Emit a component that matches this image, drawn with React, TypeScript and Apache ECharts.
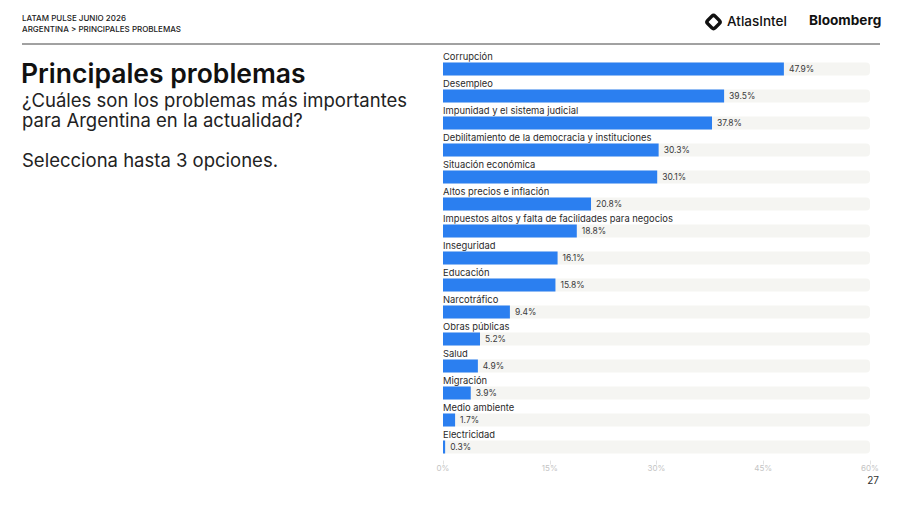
import React, { useEffect, useRef } from "react";
import * as echarts from "echarts";

const categories = [
  "Corrupción",
  "Desempleo",
  "Impunidad y el sistema judicial",
  "Debilitamiento de la democracia y instituciones",
  "Situación económica",
  "Altos precios e inflación",
  "Impuestos altos y falta de facilidades para negocios",
  "Inseguridad",
  "Educación",
  "Narcotráfico",
  "Obras públicas",
  "Salud",
  "Migración",
  "Medio ambiente",
  "Electricidad",
];
const values = [47.9, 39.5, 37.8, 30.3, 30.1, 20.8, 18.8, 16.1, 15.8, 9.4, 5.2, 4.9, 3.9, 1.7, 0.3];
const xTicks = [0, 15, 30, 45, 60];

const FONT = "Inter, 'Noto Sans', sans-serif";

export default function App() {
  const ref = useRef<HTMLDivElement>(null);
  useEffect(() => {
    if (!ref.current) return;
    const chart = echarts.init(ref.current, null, { renderer: "svg" });
    chart.setOption({
      animation: false,
      backgroundColor: "#ffffff",
      textStyle: { fontFamily: FONT },
      grid: { left: 443, right: 30, top: 55.5, bottom: 44.5, containLabel: false },
      xAxis: {
        type: "value",
        min: xTicks[0],
        max: xTicks[xTicks.length - 1],
        interval: 15,
        axisLine: { show: false },
        axisTick: { show: true, length: 4, lineStyle: { color: "#e2e2e2" } },
        splitLine: { show: false },
        axisLabel: {
          color: "#c4c4c4",
          fontSize: 8,
          fontFamily: FONT,
          margin: 3,
          formatter: (v: number) => `${v}%`,
        },
      },
      yAxis: {
        type: "category",
        data: categories,
        inverse: true,
        z: 10,
        axisLine: { show: false },
        axisTick: { show: false },
        axisLabel: {
          inside: true,
          interval: 0,
          showMinLabel: true,
          showMaxLabel: true,
          hideOverlap: false,
          margin: 0,
          align: "left",
          verticalAlign: "middle",
          formatter: (v: string) => `{a|${v}}\n{b| }`,
          rich: {
            a: { color: "#2a2a2a", fontSize: 9.4, fontFamily: FONT, lineHeight: 13 },
            b: { fontSize: 9.4, lineHeight: 26 },
          },
        },
      },
      series: [
        {
          type: "bar",
          data: values,
          barWidth: 13,
          itemStyle: { color: "#2b7ff0" },
          showBackground: true,
          backgroundStyle: { color: "#f5f5f2", borderRadius: [0, 4, 4, 0] },
          label: {
            show: true,
            position: "right",
            distance: 5,
            color: "#3a3a3a",
            fontSize: 8.5,
            fontFamily: FONT,
            formatter: (p: any) => `${p.value.toFixed(1)}%`,
          },
          z: 3,
        },
      ],
      graphic: [
        {
          type: "text",
          left: 22,
          top: 13.5,
          style: { text: "LATAM PULSE JUNIO 2026", fill: "#222", font: `500 8px ${FONT}` },
        },
        {
          type: "text",
          left: 22,
          top: 24.5,
          style: { text: "ARGENTINA > PRINCIPALES PROBLEMAS", fill: "#222", font: `500 8px ${FONT}` },
        },
        {
          type: "line",
          shape: { x1: 22, y1: 44, x2: 880, y2: 44 },
          style: { stroke: "#444", lineWidth: 1 },
        },
        {
          type: "rect",
          x: 713.5,
          y: 22,
          rotation: Math.PI / 4,
          shape: { x: -7, y: -7, width: 14, height: 14, r: 4 },
          style: { fill: "#111" },
        },
        {
          type: "rect",
          x: 713.5,
          y: 22,
          rotation: Math.PI / 4,
          shape: { x: -3.6, y: -3.6, width: 7.2, height: 7.2, r: 0.8 },
          style: { fill: "#fff" },
        },
        {
          type: "text",
          left: 727,
          top: 14,
          style: { text: "AtlasIntel", fill: "#111", font: `500 13.5px ${FONT}` },
        },
        {
          type: "text",
          left: 809,
          top: 13,
          style: { text: "Bloomberg", fill: "#111", font: `700 13.6px ${FONT}` },
        },
        {
          type: "text",
          left: 21,
          top: 59,
          style: { text: "Principales problemas", fill: "#111", font: `600 26.5px ${FONT}` },
        },
        {
          type: "text",
          left: 22,
          top: 90,
          style: {
            text: "¿Cuáles son los problemas más importantes\npara Argentina en la actualidad?",
            fill: "#222",
            font: `400 18.5px ${FONT}`,
            lineHeight: 20,
          },
        },
        {
          type: "text",
          left: 22,
          top: 150,
          style: { text: "Selecciona hasta 3 opciones.", fill: "#222", font: `400 18.5px ${FONT}` },
        },
        {
          type: "text",
          right: 21,
          top: 475,
          style: { text: "27", fill: "#333", font: `400 10px ${FONT}` },
        },
      ],
    });
    return () => chart.dispose();
  }, []);
  return (
    <div
      ref={ref}
      style={{ position: "fixed", left: 0, top: 0, width: 900, height: 505 }}
    />
  );
}
